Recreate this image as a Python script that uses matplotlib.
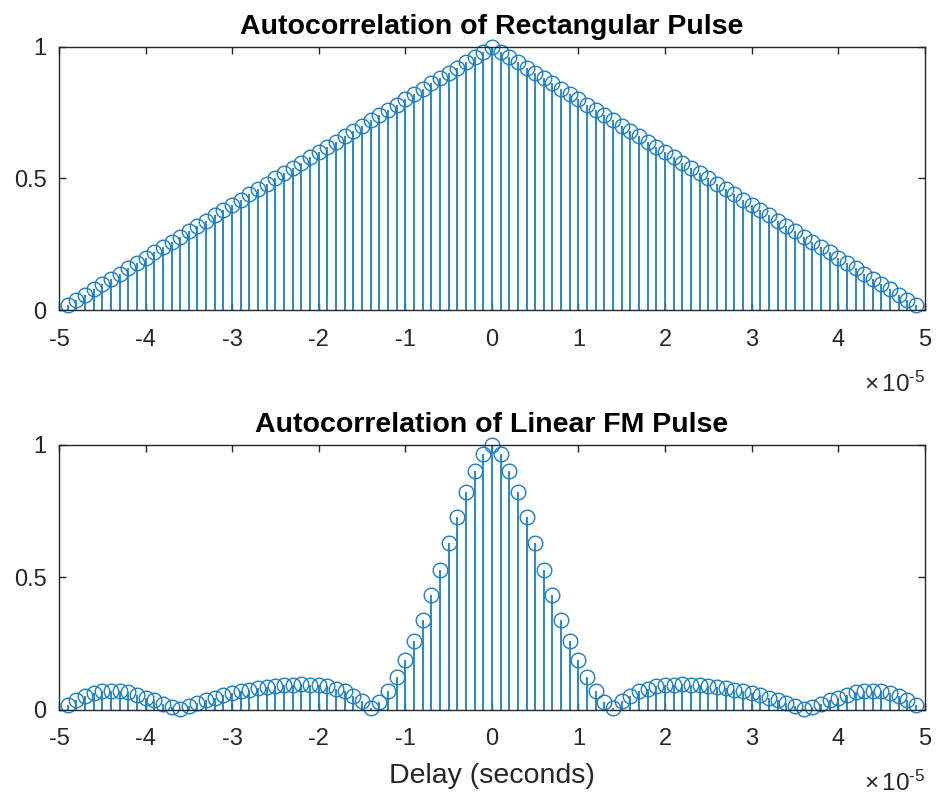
import numpy as np
import matplotlib
matplotlib.use("Agg")
import matplotlib.pyplot as plt
from matplotlib.ticker import FuncFormatter

plt.rcParams["font.family"] = ["Liberation Sans", "DejaVu Sans"]
plt.rcParams["mathtext.fontset"] = "custom"
plt.rcParams["mathtext.rm"] = "Liberation Sans"
plt.rcParams["mathtext.it"] = "Liberation Sans:italic"
plt.rcParams["mathtext.bf"] = "Liberation Sans:bold"
plt.rcParams["axes.unicode_minus"] = False

# lags in samples (1 MHz sampling -> 1 us per lag)
lags = np.arange(-49, 50)
delay = lags * 1e-6

rect_acorr = [
    0.02, 0.04, 0.06, 0.08, 0.10, 0.12, 0.14, 0.16, 0.18, 0.20,
    0.22, 0.24, 0.26, 0.28, 0.30, 0.32, 0.34, 0.36, 0.38, 0.40,
    0.42, 0.44, 0.46, 0.48, 0.50, 0.52, 0.54, 0.56, 0.58, 0.60,
    0.62, 0.64, 0.66, 0.68, 0.70, 0.72, 0.74, 0.76, 0.78, 0.80,
    0.82, 0.84, 0.86, 0.88, 0.90, 0.92, 0.94, 0.96, 0.98,
    1.00,
    0.98, 0.96, 0.94, 0.92, 0.90, 0.88, 0.86, 0.84, 0.82, 0.80,
    0.78, 0.76, 0.74, 0.72, 0.70, 0.68, 0.66, 0.64, 0.62, 0.60,
    0.58, 0.56, 0.54, 0.52, 0.50, 0.48, 0.46, 0.44, 0.42, 0.40,
    0.38, 0.36, 0.34, 0.32, 0.30, 0.28, 0.26, 0.24, 0.22, 0.20,
    0.18, 0.16, 0.14, 0.12, 0.10, 0.08, 0.06, 0.04, 0.02,
]

lfm_acorr = [
    0.020, 0.038, 0.053, 0.064, 0.071, 0.073, 0.071, 0.066, 0.058, 0.047,
    0.036, 0.023, 0.010, 0.002, 0.014, 0.026, 0.036, 0.046, 0.055, 0.063,
    0.070, 0.076, 0.082, 0.086, 0.090, 0.094, 0.096, 0.097, 0.096, 0.094,
    0.089, 0.081, 0.070, 0.054, 0.033, 0.006, 0.029, 0.073, 0.125, 0.187,
    0.260, 0.341, 0.432, 0.529, 0.629, 0.729, 0.822, 0.903, 0.965,
    1.000,
    0.965, 0.903, 0.822, 0.729, 0.629, 0.529, 0.432, 0.341, 0.260, 0.187,
    0.125, 0.073, 0.029, 0.006, 0.033, 0.054, 0.070, 0.081, 0.089, 0.094,
    0.096, 0.097, 0.096, 0.094, 0.090, 0.086, 0.082, 0.076, 0.070, 0.063,
    0.055, 0.046, 0.036, 0.026, 0.014, 0.002, 0.010, 0.023, 0.036, 0.047,
    0.058, 0.066, 0.071, 0.073, 0.071, 0.064, 0.053, 0.038, 0.020,
]

titles = ["Autocorrelation of Rectangular Pulse", "Autocorrelation of Linear FM Pulse"]
xticks = [-5e-5, -4e-5, -3e-5, -2e-5, -1e-5, 0, 1e-5, 2e-5, 3e-5, 4e-5, 5e-5]
yticks = [0, 0.5, 1]

BLUE = "#1a7fc6"
AXC = "#262626"

fig = plt.figure(figsize=(9.36, 7.99), dpi=100)
ax1 = fig.add_axes([0.063, 0.6114, 0.925, 0.3304])
ax2 = fig.add_axes([0.063, 0.1114, 0.925, 0.3317])


def draw(ax, y, title):
    ml, sl, bl = ax.stem(delay, y, basefmt=" ")
    plt.setp(sl, color=BLUE, linewidth=1.3)
    plt.setp(ml, color=BLUE, marker="o", markersize=10.5,
             markerfacecolor="none", markeredgewidth=1.0, clip_on=False)
    ax.set_xlim(-5e-5, 5e-5)
    ax.set_ylim(0, 1)
    ax.set_xticks(xticks)
    ax.set_yticks(yticks)
    ax.set_yticklabels(["0", "0.5", "1"])
    ax.xaxis.set_major_formatter(FuncFormatter(lambda v, p: f"{v / 1e-5:.0f}"))
    ax.tick_params(direction="in", length=5, width=1.0, colors=AXC,
                   labelsize=17, top=True, right=True)
    ax.tick_params(axis="x", pad=13)
    ax.tick_params(axis="y", pad=9)
    for s in ax.spines.values():
        s.set_color(AXC)
        s.set_linewidth(1.0)
    ax.set_title(title, fontsize=20.5, fontweight="bold", pad=9)
    # exponent label like MATLAB's x10^-5
    ax.annotate(r"$\times\,10^{\text{-5}}$", xy=(1, 0), xycoords="axes fraction",
                xytext=(0, -53), textcoords="offset points",
                ha="right", va="center", fontsize=17.5, color=AXC)


draw(ax1, rect_acorr, titles[0])
draw(ax2, lfm_acorr, titles[1])
ax2.set_xlabel("Delay (seconds)", fontsize=20.5, color=AXC, labelpad=9)

fig.savefig("out.png", dpi=100)
